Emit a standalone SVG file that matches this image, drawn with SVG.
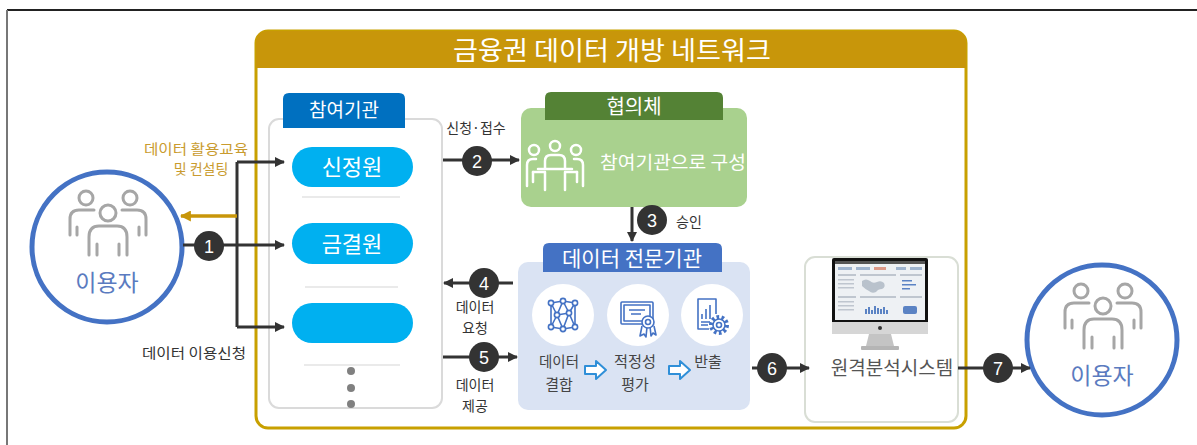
<svg xmlns="http://www.w3.org/2000/svg" width="1197" height="445" viewBox="0 0 1197 445">
  <style>
    .kr { font-family: "Noto Sans CJK KR", "Noto Sans", sans-serif; }
    .lbl { font-family: "Noto Sans CJK KR", "Noto Sans", sans-serif; font-size: 14px; fill: #333; text-anchor: middle; }
    .step { font-family: "Noto Sans CJK KR", "Noto Sans", sans-serif; font-size: 15px; fill: #444; text-anchor: middle; }
    .wht { fill: #fff; text-anchor: middle; }
    .conn { stroke: #333; stroke-width: 3; fill: none; }
    .badge circle { fill: #333; }
    .badge text { font-family: "Liberation Sans", sans-serif; font-size: 18px; fill: #fff; text-anchor: middle; }
    .ppl { stroke: #a6a6a6; stroke-width: 3; fill: none; stroke-linecap: round; }
    .ico { stroke: #4472c4; stroke-width: 1.6; fill: none; stroke-linejoin: round; }
    .sep { stroke: #e3e3e3; stroke-width: 1.5; }
    .pill { fill: #00b0f0; }
    .hollow { fill: #fff; stroke: #2f8fd8; stroke-width: 2; stroke-linejoin: round; }
  </style>
  <defs>
    <marker id="ah" viewBox="0 0 10 10" refX="9" refY="5" markerWidth="10" markerHeight="10" markerUnits="userSpaceOnUse" orient="auto">
      <path d="M0 0 L10 5 L0 10 Z" fill="#333"/>
    </marker>
    <marker id="ahGold" viewBox="0 0 10 10" refX="9" refY="5" markerWidth="11" markerHeight="11" markerUnits="userSpaceOnUse" orient="auto">
      <path d="M0 0 L10 5 L0 10 Z" fill="#c8960a"/>
    </marker>
    <!-- three-person outline icon, centred on x=0, top at y=0 -->
    <g id="people" class="ppl">
      <circle cx="-22" cy="9" r="7"/>
      <circle cx="22" cy="9" r="7"/>
      <circle cx="0" cy="24" r="8"/>
      <path d="M-38 46 V30 Q-38 21 -29 21 H-14"/>
      <path d="M38 46 V30 Q38 21 29 21 H14"/>
      <path d="M-31 38 V46 M31 38 V46"/>
      <path d="M-19 66 V48 Q-19 37 -9 37 H9 Q19 37 19 48 V66"/>
      <path d="M-11 55 V66 M11 55 V66"/>
    </g>
  </defs>

  <!-- page frame -->
  <line x1="7" y1="10" x2="1197" y2="10" stroke="#222" stroke-width="2"/>
  <line x1="7" y1="10" x2="7" y2="445" stroke="#777" stroke-width="2"/>

  <!-- network container -->
  <g id="network">
    <rect x="256" y="31" width="710" height="397" rx="12" fill="#fff" stroke="#c8a000" stroke-width="3"/>
    <path d="M256 68 V43 Q256 31 268 31 H954 Q966 31 966 43 V68 Z" fill="#c8960a"/>
    <text class="kr wht" x="612" y="60" font-size="26" textLength="318" lengthAdjust="spacingAndGlyphs">금융권 데이터 개방 네트워크</text>
  </g>

  <!-- user (left) -->
  <g id="user-left">
    <circle cx="107" cy="247" r="75" fill="#fff" stroke="#4472c4" stroke-width="5"/>
    <use href="#people" x="108" y="189"/>
    <text class="kr" x="107" y="291" font-size="23" fill="#5b7bc0" text-anchor="middle">이용자</text>
  </g>

  <!-- participating institutions -->
  <g id="institutions">
    <rect x="269" y="119" width="173" height="289" rx="10" fill="#fff" stroke="#dadada" stroke-width="2"/>
    <path d="M283 128 V99 Q283 93 289 93 H399 Q405 93 405 99 V128 Z" fill="#0070c0"/>
    <text class="kr wht" x="344" y="117" font-size="19">참여기관</text>
    <rect class="pill" x="292" y="147" width="121" height="40" rx="20"/>
    <text class="kr wht" x="352" y="175" font-size="22">신정원</text>
    <line class="sep" x1="302" y1="197" x2="400" y2="197"/>
    <rect class="pill" x="292" y="223" width="121" height="41" rx="20.5"/>
    <text class="kr wht" x="352" y="252" font-size="22">금결원</text>
    <line class="sep" x1="305" y1="287" x2="398" y2="287"/>
    <rect class="pill" x="292" y="303" width="121" height="40" rx="20"/>
    <line class="sep" x1="304" y1="365" x2="400" y2="365"/>
    <circle cx="351" cy="371" r="4" fill="#808080"/>
    <circle cx="351" cy="388" r="4" fill="#808080"/>
    <circle cx="351" cy="404" r="4" fill="#808080"/>
  </g>

  <!-- consultative body -->
  <g id="council">
    <rect x="521" y="108" width="226" height="99" rx="10" fill="#a9d18e"/>
    <path d="M545 120 V98 Q545 92 551 92 H717 Q723 92 723 98 V120 Z" fill="#548235"/>
    <text class="kr wht" x="634" y="114" font-size="20">협의체</text>
    <!-- meeting icon -->
    <g stroke="#fff" stroke-width="2.5" fill="none" stroke-linecap="round" stroke-linejoin="round">
      <circle cx="534" cy="150" r="5"/>
      <circle cx="555" cy="146" r="5"/>
      <circle cx="576" cy="150" r="5"/>
      <path d="M545 169 V161 Q545 155 551 155 H559 Q565 155 565 161 V169"/>
      <path d="M538 169 H572"/>
      <path d="M527 186 V165 Q527 159 533 159 H536"/>
      <path d="M583 186 V165 Q583 159 577 159 H574"/>
      <path d="M533 172 H545 V190 M577 172 H565 V190"/>
      <path d="M533 172 V182 M577 172 V182"/>
    </g>
    <text class="kr wht" x="673" y="169" font-size="18" textLength="146" lengthAdjust="spacingAndGlyphs">참여기관으로 구성</text>
  </g>

  <!-- data specialist agency -->
  <g id="agency">
    <rect x="518" y="262" width="232" height="148" rx="10" fill="#dae3f3"/>
    <path d="M543 272 V249 Q543 243 549 243 H716 Q722 243 722 249 V272 Z" fill="#4472c4"/>
    <text class="kr wht" x="632" y="266" font-size="21">데이터 전문기관</text>
    <circle cx="563" cy="315" r="31" fill="#fff"/>
    <circle cx="638" cy="315" r="31" fill="#fff"/>
    <circle cx="712" cy="315" r="31" fill="#fff"/>
    <!-- network graph icon -->
    <g class="ico">
      <path d="M551 303 L563 301 L575 303 M551 303 L557 315 L569 313 L575 303 M557 315 L551 327 L563 329 L575 327 L569 313 M563 301 L557 315 M563 301 L569 313 M557 315 L563 329 L569 313 M551 303 L551 327 M575 303 L575 327"/>
      <g fill="#fff">
        <circle cx="551" cy="303" r="2.6"/><circle cx="563" cy="301" r="2.6"/><circle cx="575" cy="303" r="2.6"/>
        <circle cx="557" cy="315" r="2.6"/><circle cx="569" cy="313" r="2.6"/>
        <circle cx="551" cy="327" r="2.6"/><circle cx="563" cy="329" r="2.6"/><circle cx="575" cy="327" r="2.6"/>
      </g>
    </g>
    <!-- certificate icon -->
    <g class="ico">
      <rect x="621" y="302" width="32" height="22" rx="1"/>
      <rect x="624" y="305" width="26" height="16"/>
      <path d="M629 310 H645 M631 314 H641"/>
      <path d="M642 326 L640 336 L644 334 L646 337 L647 327 M650 326 L651 336 L653 333 L656 335 L654 326"/>
      <circle cx="648" cy="322" r="6" fill="#fff"/>
      <circle cx="648" cy="322" r="2.5"/>
    </g>
    <!-- report with gear icon -->
    <g class="ico">
      <path d="M716 314 V299 H698 V329 H709"/>
      <path d="M702 319 V314 M706 319 V309 M710 319 V305"/>
      <path d="M701 322 H710 M701 325 H708"/>
      <circle cx="719" cy="325" r="8" stroke-width="4" stroke-dasharray="2.6 2.4"/>
      <circle cx="719" cy="325" r="6" fill="#fff"/>
      <circle cx="719" cy="325" r="2.5"/>
    </g>
    <text class="step" x="559" y="367" textLength="40" lengthAdjust="spacingAndGlyphs">데이터</text>
    <text class="step" x="559" y="390">결합</text>
    <path class="hollow" d="M585 366 H596 V361 L606 370 L596 379 V374 H585 Z"/>
    <text class="step" x="635" y="367" textLength="42" lengthAdjust="spacingAndGlyphs">적정성</text>
    <text class="step" x="635" y="390">평가</text>
    <path class="hollow" d="M669 366 H680 V361 L690 370 L680 379 V374 H669 Z"/>
    <text class="step" x="708" y="367">반출</text>
  </g>

  <!-- remote analysis system -->
  <g id="remote">
    <rect x="805" y="257" width="153" height="165" rx="10" fill="#fff" stroke="#d9ded5" stroke-width="2"/>
    <rect x="832" y="258" width="96" height="66" rx="2" fill="#111"/>
    <rect x="835" y="261" width="90" height="59" fill="#eef1f4"/>
    <rect x="835" y="261" width="90" height="3" fill="#555"/>
    <g fill="#9fb4cf">
      <rect x="838" y="267" width="14" height="3"/><rect x="856" y="267" width="14" height="3"/>
      <rect x="874" y="267" width="12" height="3" fill="#d98"/><rect x="896" y="267" width="10" height="3"/>
      <rect x="910" y="267" width="12" height="3"/>
    </g>
    <g fill="#bfc6cf">
      <rect x="838" y="274" width="18" height="2"/><rect x="860" y="274" width="36" height="2"/><rect x="900" y="274" width="22" height="2"/>
      <rect x="838" y="279" width="16" height="1.5"/><rect x="838" y="283" width="16" height="1.5"/><rect x="838" y="287" width="16" height="1.5"/>
      <rect x="838" y="296" width="18" height="2"/><rect x="860" y="296" width="36" height="2"/><rect x="900" y="296" width="22" height="2"/>
      <rect x="838" y="301" width="16" height="1.5"/><rect x="838" y="305" width="16" height="1.5"/><rect x="838" y="309" width="16" height="1.5"/>
    </g>
    <path d="M862 281 q4 -3 8 0 q3 3 7 1 q4 -2 7 1 q2 4 -2 6 q-4 0 -6 3 q-4 2 -7 -1 q-4 -2 -7 -5 z" fill="#b9c2cc"/>
    <g fill="#5b83c4">
      <rect x="902" y="280" width="10" height="1.5"/><rect x="902" y="284" width="14" height="1.5"/><rect x="902" y="288" width="8" height="1.5"/>
      <rect x="865" y="309" width="2" height="5"/><rect x="868" y="307" width="2" height="7"/><rect x="871" y="310" width="2" height="4"/>
      <rect x="874" y="306" width="2" height="8"/><rect x="877" y="308" width="2" height="6"/><rect x="880" y="309" width="2" height="5"/>
      <rect x="883" y="307" width="2" height="7"/><rect x="886" y="310" width="2" height="4"/>
      <rect x="903" y="306" width="14" height="8" rx="2"/>
    </g>
    <rect x="832" y="322" width="96" height="12" fill="#d6d6d6"/>
    <circle cx="880" cy="328" r="2" fill="#333"/>
    <path d="M869 334 H891 L894 346 H866 Z" fill="#c4c4c4"/>
    <rect x="861" y="346" width="38" height="4" rx="1" fill="#b5b5b5"/>
    <text class="kr" x="892" y="375" font-size="19" fill="#555" text-anchor="middle">원격분석시스템</text>
  </g>

  <!-- user (right) -->
  <g id="user-right">
    <circle cx="1102" cy="340" r="75" fill="#fff" stroke="#4472c4" stroke-width="5"/>
    <use href="#people" x="1103" y="282"/>
    <text class="kr" x="1102" y="384" font-size="23" fill="#5b7bc0" text-anchor="middle">이용자</text>
  </g>

  <!-- connectors and their labels -->
  <g id="connectors">
    <path class="conn" d="M183 245 H284" marker-end="url(#ah)"/>
    <path class="conn" d="M237 162 V327"/>
    <path class="conn" d="M237 162 H284" marker-end="url(#ah)"/>
    <path class="conn" d="M237 327 H284" marker-end="url(#ah)"/>
    <path d="M237 216 H181" stroke="#c8960a" stroke-width="3.5" fill="none" marker-end="url(#ahGold)"/>
    <path class="conn" d="M443 160 H519" marker-end="url(#ah)"/>
    <path class="conn" d="M632 207 V241" marker-end="url(#ah)"/>
    <path class="conn" d="M513 283 H444" marker-end="url(#ah)"/>
    <path class="conn" d="M443 357 H517" marker-end="url(#ah)"/>
    <path class="conn" d="M752 368 H809" marker-end="url(#ah)"/>
    <path class="conn" d="M958 368 H1030" marker-end="url(#ah)"/>

    <g class="badge"><circle cx="209" cy="246" r="15"/><text x="209" y="252.5">1</text></g>
    <g class="badge"><circle cx="477" cy="161" r="15"/><text x="477" y="167.5">2</text></g>
    <g class="badge"><circle cx="652" cy="220" r="15"/><text x="652" y="226.5">3</text></g>
    <g class="badge"><circle cx="484" cy="283" r="15"/><text x="484" y="289.5">4</text></g>
    <g class="badge"><circle cx="484" cy="357" r="15"/><text x="484" y="363.5">5</text></g>
    <g class="badge"><circle cx="772" cy="368" r="15"/><text x="772" y="374.5">6</text></g>
    <g class="badge"><circle cx="998" cy="368" r="15"/><text x="998" y="374.5">7</text></g>

    <text class="kr" x="196" y="154" font-size="14" fill="#c99b2e" text-anchor="middle" textLength="104" lengthAdjust="spacingAndGlyphs">데이터 활용교육</text>
    <text class="kr" x="201" y="174" font-size="14" fill="#c99b2e" text-anchor="middle">및 컨설팅</text>
    <text class="lbl" x="194" y="358" textLength="104" lengthAdjust="spacingAndGlyphs">데이터 이용신청</text>
    <text class="lbl" x="476" y="133">신청·접수</text>
    <text class="lbl" x="689" y="227">승인</text>
    <text class="lbl" x="475" y="312">데이터</text>
    <text class="lbl" x="475" y="333">요청</text>
    <text class="lbl" x="475" y="390">데이터</text>
    <text class="lbl" x="475" y="411">제공</text>
  </g>
</svg>
